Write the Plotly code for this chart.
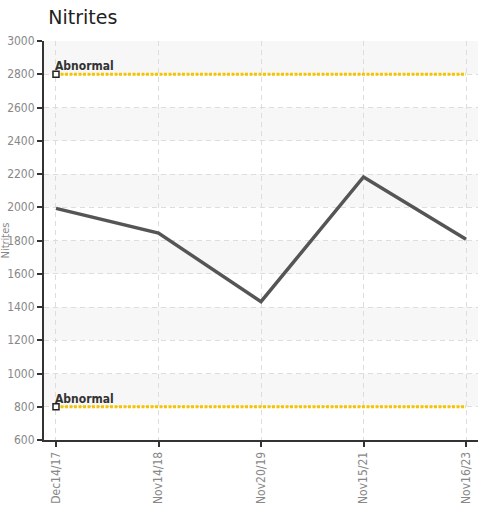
import plotly.graph_objects as go

categories = ["Dec14/17", "Nov14/18", "Nov20/19", "Nov15/21", "Nov16/23"]
nitrites = [1993, 1845, 1432, 2182, 1808]
abnormal_high = 2800
abnormal_low = 800
y_ticks = list(range(600, 3001, 200))
band_ranges = [(800, 1000), (1200, 1400), (1600, 1800), (2000, 2200), (2400, 2600), (2800, 3000)]

cond = "DejaVu Sans Condensed, Roboto, sans-serif"
tick_font = dict(family=cond, size=12, color="#888888")

fig = go.Figure()

for lvl in (abnormal_high, abnormal_low):
    fig.add_trace(go.Scatter(
        x=categories, y=[lvl] * len(categories), mode="lines",
        line=dict(color="#F5C400", width=3, dash="3px,1.5px"),
        hoverinfo="skip", showlegend=False))
    fig.add_trace(go.Scatter(
        x=[categories[0]], y=[lvl], mode="markers",
        marker=dict(symbol="square", size=6, color="white",
                    line=dict(color="#222222", width=1.5)),
        showlegend=False, hoverinfo="skip"))
    fig.add_annotation(x=categories[0], y=lvl, text="<b>Abnormal</b>", showarrow=False,
                       xanchor="left", yanchor="bottom", xshift=-3, yshift=-1,
                       font=dict(family=cond, size=12, color="#333333"))

fig.add_trace(go.Scatter(
    x=categories, y=nitrites, mode="lines",
    line=dict(color="#555555", width=3.5),
    showlegend=False))

for lo, hi in band_ranges:
    fig.add_shape(type="rect", xref="paper", yref="y", x0=0, x1=1, y0=lo, y1=hi,
                  fillcolor="#F7F7F7", line=dict(width=0), layer="below")

fig.add_annotation(xref="paper", yref="paper", x=0, y=0.5, xshift=-39, text="Nitrites",
                   textangle=-90, showarrow=False, xanchor="center", yanchor="middle",
                   font=dict(family=cond, size=11, color="#888888"))

fig.update_layout(
    width=491, height=507,
    margin=dict(l=44, r=13, t=41, b=67),
    paper_bgcolor="white", plot_bgcolor="white",
    title=dict(text="Nitrites", x=0.01, xref="paper", xanchor="left",
               y=0.978, yref="container", yanchor="top",
               font=dict(family="DejaVu Sans", size=19, color="#222222")),
    xaxis=dict(type="category", range=[-0.117, 4.117], automargin=False,
               tickangle=-90, tickfont=tick_font,
               showgrid=True, gridcolor="#DDDDDD", griddash="5px,4px", gridwidth=1,
               showline=True, linecolor="#333333", linewidth=2,
               ticks="outside", ticklen=5, tickcolor="#333333", tickwidth=2),
    yaxis=dict(range=[600, 3000], tickvals=y_ticks, tickfont=tick_font, automargin=False,
               showgrid=True, gridcolor="#DDDDDD", griddash="5px,4px", gridwidth=1,
               showline=True, linecolor="#333333", linewidth=2, zeroline=False,
               ticks="outside", ticklen=5, tickcolor="#333333", tickwidth=2),
)

fig.write_html("out.html", config={"displayModeBar": False},
               post_script="document.body.style.margin='0';")
